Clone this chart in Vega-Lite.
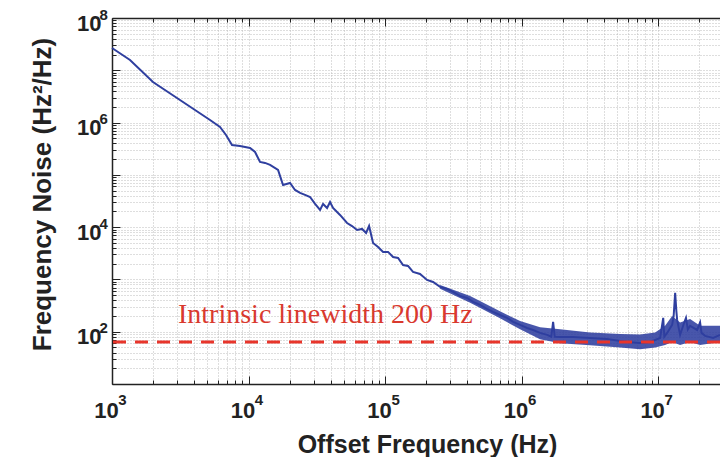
{
  "$schema": "https://vega.github.io/schema/vega-lite/v6.json",
  "width": 608,
  "height": 366,
  "autosize": "none",
  "padding": {"left": 112, "top": 18, "right": 0, "bottom": 73},
  "background": "white",
  "config": {"view": {"stroke": null}},
  "datasets": {
    "psd": [
      {"f": 1000, "S": 26700000}, {"f": 1355, "S": 15700000}, {"f": 1995, "S": 5970000}, {"f": 2992, "S": 2950000},
      {"f": 4055, "S": 1740000}, {"f": 5224, "S": 1120000}, {"f": 6180, "S": 824000}, {"f": 6840, "S": 579000},
      {"f": 7568, "S": 373000}, {"f": 8663, "S": 357000}, {"f": 10260, "S": 327000}, {"f": 11160, "S": 274000},
      {"f": 12140, "S": 177000}, {"f": 13210, "S": 169000}, {"f": 14380, "S": 155000}, {"f": 16450, "S": 124000},
      {"f": 17900, "S": 64100}, {"f": 20140, "S": 70000}, {"f": 21910, "S": 51400}, {"f": 23850, "S": 45100},
      {"f": 25940, "S": 41300}, {"f": 28230, "S": 37800}, {"f": 30720, "S": 27800}, {"f": 33420, "S": 21300},
      {"f": 35160, "S": 27800}, {"f": 37610, "S": 23300}, {"f": 39540, "S": 30300}, {"f": 41600, "S": 23300},
      {"f": 46790, "S": 17100}, {"f": 52700, "S": 12000}, {"f": 57300, "S": 10500}, {"f": 62370, "S": 8840},
      {"f": 67870, "S": 9240}, {"f": 72610, "S": 7740}, {"f": 76380, "S": 10500}, {"f": 81700, "S": 4990},
      {"f": 88900, "S": 4180}, {"f": 96700, "S": 3360}, {"f": 105200, "S": 3360}, {"f": 114500, "S": 2690},
      {"f": 124500, "S": 2580}, {"f": 135500, "S": 1890}, {"f": 147300, "S": 1810}, {"f": 160300, "S": 1390},
      {"f": 180400, "S": 1270}, {"f": 203000, "S": 977}, {"f": 224800, "S": 895}, {"f": 253000, "S": 719},
      {"f": 284600, "S": 658}, {"f": 315000, "S": 577}, {"f": 354000, "S": 484}, {"f": 399000, "S": 443},
      {"f": 441000, "S": 372}, {"f": 497000, "S": 325}, {"f": 558000, "S": 273}, {"f": 618000, "S": 239},
      {"f": 695000, "S": 209}, {"f": 783000, "S": 184}, {"f": 867000, "S": 154}, {"f": 975000, "S": 135},
      {"f": 1097000, "S": 118}, {"f": 1214000, "S": 108}, {"f": 1366000, "S": 94.8}, {"f": 1538000, "S": 86.9},
      {"f": 1650000, "S": 80}, {"f": 1702000, "S": 154}, {"f": 1750000, "S": 80}, {"f": 1915000, "S": 79.5},
      {"f": 2383000, "S": 79.5}, {"f": 3174000, "S": 76}, {"f": 4228000, "S": 72.8}, {"f": 5930000, "S": 63.8},
      {"f": 7380000, "S": 61.1}, {"f": 8740000, "S": 63.8}, {"f": 10350000, "S": 76}, {"f": 10900000, "S": 184},
      {"f": 11100000, "S": 80}, {"f": 11640000, "S": 94.8}, {"f": 12670000, "S": 135}, {"f": 13000000, "S": 200},
      {"f": 13330000, "S": 552}, {"f": 13600000, "S": 250}, {"f": 13780000, "S": 168}, {"f": 14490000, "S": 86.9},
      {"f": 15490000, "S": 147}, {"f": 16000000, "S": 184}, {"f": 16500000, "S": 110}, {"f": 17140000, "S": 129},
      {"f": 19310000, "S": 108}, {"f": 20300000, "S": 150}, {"f": 20800000, "S": 95}, {"f": 22100000, "S": 83.2},
      {"f": 25300000, "S": 76}, {"f": 28400000, "S": 86.9}
    ],
    "band": [
      {"f": 253000, "lo": 660, "hi": 780}, {"f": 420000, "lo": 360, "hi": 480}, {"f": 695000, "lo": 180, "hi": 245},
      {"f": 975000, "lo": 112, "hi": 160}, {"f": 1366000, "lo": 72, "hi": 122}, {"f": 1915000, "lo": 60, "hi": 112},
      {"f": 3174000, "lo": 55, "hi": 97}, {"f": 5270000, "lo": 50, "hi": 90}, {"f": 7380000, "lo": 46, "hi": 88},
      {"f": 9510000, "lo": 50, "hi": 97}, {"f": 11250000, "lo": 56, "hi": 130}, {"f": 12670000, "lo": 63.8, "hi": 200},
      {"f": 14490000, "lo": 56, "hi": 150}, {"f": 17140000, "lo": 63.8, "hi": 175}, {"f": 20300000, "lo": 56, "hi": 130},
      {"f": 28400000, "lo": 63.8, "hi": 130}
    ],
    "limit": [{"S": 63.7}],
    "note": [{"f": 3044, "S": 147, "label": "Intrinsic linewidth 200 Hz"}]
  },
  "layer": [
    {
      "data": {"name": "psd"},
      "mark": {"type": "line", "color": "#2f3f9f", "strokeWidth": 2},
      "encoding": {
        "x": {
          "field": "f", "type": "quantitative",
          "scale": {"type": "log", "domain": [1000, 28400000], "nice": false},
          "axis": {
            "orient": "bottom",
            "values": [1000, 2000, 3000, 4000, 5000, 6000, 7000, 8000, 9000, 10000, 20000, 30000, 40000, 50000, 60000, 70000, 80000, 90000, 100000, 200000, 300000, 400000, 500000, 600000, 700000, 800000, 900000, 1000000, 2000000, 3000000, 4000000, 5000000, 6000000, 7000000, 8000000, 9000000, 10000000, 20000000],
            "title": "Offset Frequency (Hz)",
            "titleFont": "Liberation Sans", "titleFontSize": 25, "titleFontWeight": "bold", "titleColor": "#222222",
            "titleX": 315, "titleY": 68, "titleBaseline": "alphabetic", "titleAlign": "center", "titleAnchor": null,
            "labelExpr": "abs(log(datum.value)/LN10 - round(log(datum.value)/LN10)) < 0.001 ? '10' : ''",
            "labelFont": "Liberation Sans", "labelFontSize": 22, "labelFontWeight": "bold", "labelColor": "#222222",
            "labelPadding": 24, "labelOffset": -6, "labelOverlap": false, "labelFlush": false,
            "tickSize": {"condition": {"test": "abs(log(datum.value)/LN10 - round(log(datum.value)/LN10)) < 0.001", "value": -8}, "value": -4},
            "tickColor": "#222222", "domainColor": "#222222", "domainWidth": 1.5,
            "grid": true, "gridColor": "#bdbdbd", "gridDash": [1, 2]
          }
        },
        "y": {
          "field": "S", "type": "quantitative",
          "scale": {"type": "log", "domain": [10, 100000000], "nice": false},
          "axis": {
            "orient": "left",
            "values": [10, 20, 30, 40, 50, 60, 70, 80, 90, 100, 200, 300, 400, 500, 600, 700, 800, 900, 1000, 2000, 3000, 4000, 5000, 6000, 7000, 8000, 9000, 10000, 20000, 30000, 40000, 50000, 60000, 70000, 80000, 90000, 100000, 200000, 300000, 400000, 500000, 600000, 700000, 800000, 900000, 1000000, 2000000, 3000000, 4000000, 5000000, 6000000, 7000000, 8000000, 9000000, 10000000, 20000000, 30000000, 40000000, 50000000, 60000000, 70000000, 80000000, 90000000, 100000000],
            "title": "Frequency Noise (Hz²/Hz)",
            "titleFont": "Liberation Sans", "titleFontSize": 26, "titleFontWeight": "bold", "titleColor": "#222222",
            "titleX": -62, "titleY": 176, "titleAngle": -90, "titleBaseline": "alphabetic", "titleAlign": "center", "titleAnchor": null,
            "labelExpr": "abs(log(datum.value)/LN10 - round(log(datum.value)/LN10)) < 0.001 && round(log(datum.value)/LN10) % 2 == 0 ? '10' : ''",
            "labelFont": "Liberation Sans", "labelFontSize": 22, "labelFontWeight": "bold", "labelColor": "#222222",
            "labelPadding": 19, "labelOffset": 5, "labelOverlap": false, "labelFlush": false,
            "tickSize": {"condition": {"test": "abs(log(datum.value)/LN10 - round(log(datum.value)/LN10)) < 0.001", "value": -8}, "value": -4},
            "tickColor": "#222222", "domainColor": "#222222", "domainWidth": 1.5,
            "grid": true, "gridColor": "#bdbdbd", "gridDash": [1, 2]
          }
        }
      }
    },
    {
      "data": {"name": "band"},
      "mark": {"type": "area", "color": "#2f3f9f", "opacity": 0.88},
      "encoding": {
        "x": {
          "field": "f", "type": "quantitative",
          "scale": {"type": "log", "domain": [1000, 28400000], "nice": false},
          "axis": {
            "orient": "bottom",
            "values": [1000, 10000, 100000, 1000000, 10000000],
            "title": null, "grid": false, "ticks": false, "domain": false,
            "labelExpr": "'' + round(log(datum.value)/LN10)",
            "labelFont": "Liberation Sans", "labelFontSize": 15, "labelFontWeight": "bold", "labelColor": "#222222",
            "labelPadding": 8, "labelOffset": 10, "labelOverlap": false, "labelFlush": false
          }
        },
        "y": {
          "field": "lo", "type": "quantitative",
          "scale": {"type": "log", "domain": [10, 100000000], "nice": false},
          "axis": {
            "orient": "left",
            "values": [100, 10000, 1000000, 100000000],
            "title": null, "grid": false, "ticks": false, "domain": false,
            "labelExpr": "'' + round(log(datum.value)/LN10)",
            "labelFont": "Liberation Sans", "labelFontSize": 15, "labelFontWeight": "bold", "labelColor": "#222222",
            "labelPadding": 13, "labelAlign": "left", "labelOffset": -4, "labelOverlap": false, "labelFlush": false
          }
        },
        "y2": {"field": "hi"}
      }
    },
    {
      "data": {"name": "limit"},
      "mark": {"type": "rule", "color": "#e8352b", "strokeWidth": 3, "strokeDash": [13, 9]},
      "encoding": {
        "y": {"field": "S", "type": "quantitative", "scale": {"type": "log", "domain": [10, 100000000], "nice": false}, "axis": null}
      }
    },
    {
      "data": {"name": "note"},
      "mark": {"type": "text", "align": "left", "baseline": "alphabetic", "font": "Liberation Serif", "fontSize": 28, "color": "#d9392e"},
      "encoding": {
        "x": {
          "field": "f", "type": "quantitative",
          "scale": {"type": "log", "domain": [1000, 28400000], "nice": false},
          "axis": {
            "orient": "top",
            "values": [1000, 2000, 3000, 4000, 5000, 6000, 7000, 8000, 9000, 10000, 20000, 30000, 40000, 50000, 60000, 70000, 80000, 90000, 100000, 200000, 300000, 400000, 500000, 600000, 700000, 800000, 900000, 1000000, 2000000, 3000000, 4000000, 5000000, 6000000, 7000000, 8000000, 9000000, 10000000, 20000000],
            "title": null, "labels": false, "grid": false,
            "tickSize": {"condition": {"test": "abs(log(datum.value)/LN10 - round(log(datum.value)/LN10)) < 0.001", "value": -8}, "value": -4},
            "tickColor": "#222222", "domainColor": "#222222", "domainWidth": 1.5
          }
        },
        "y": {
          "field": "S", "type": "quantitative",
          "scale": {"type": "log", "domain": [10, 100000000], "nice": false},
          "axis": {"orient": "right", "title": null, "labels": false, "ticks": false, "domain": false, "grid": false}
        },
        "text": {"field": "label"}
      }
    }
  ],
  "resolve": {"axis": {"x": "independent", "y": "independent"}}
}
